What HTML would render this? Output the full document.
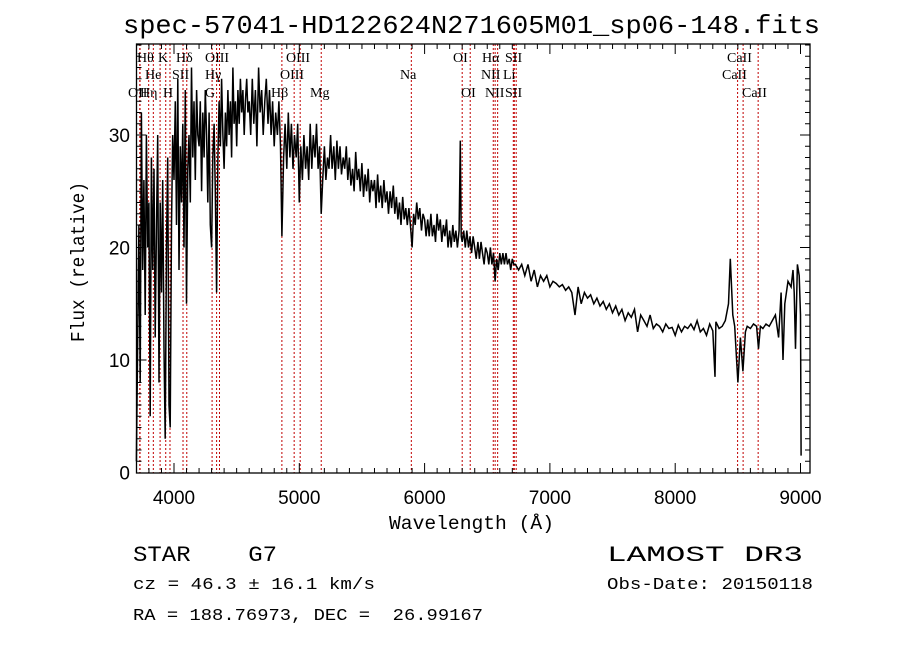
<!DOCTYPE html>
<html><head><meta charset="utf-8"><style>
html,body{margin:0;padding:0;background:#fff;}
svg{display:block;}
text{white-space:pre;}
</style></head><body>
<svg id="chart" width="900" height="649" viewBox="0 0 900 649" xmlns="http://www.w3.org/2000/svg" xml:space="preserve">
<rect x="0" y="0" width="900" height="649" fill="#fff"/>
<text x="123" y="33" textLength="697" lengthAdjust="spacingAndGlyphs" font-family="Liberation Mono, monospace" font-size="26">spec-57041-HD122624N271605M01_sp06-148.fits</text>
<g id="lines-layer"></g>
<g id="spec-layer"></g>
<g id="axes-layer"></g>
<text x="389" y="529" textLength="165" lengthAdjust="spacingAndGlyphs" font-family="Liberation Mono, monospace" font-size="19">Wavelength (Å)</text>
<text transform="translate(84,342) rotate(-90)" textLength="160" lengthAdjust="spacingAndGlyphs" font-family="Liberation Mono, monospace" font-size="19">Flux (relative)</text>
<text x="133" y="561" textLength="144" lengthAdjust="spacingAndGlyphs" font-family="Liberation Mono, monospace" font-size="22">STAR    G7</text>
<text x="607" y="561" textLength="196" lengthAdjust="spacingAndGlyphs" font-family="Liberation Mono, monospace" font-size="22">LAMOST DR3</text>
<text x="133" y="589" textLength="242" lengthAdjust="spacingAndGlyphs" font-family="Liberation Mono, monospace" font-size="17">cz = 46.3 ± 16.1 km/s</text>
<text x="607" y="589" textLength="206" lengthAdjust="spacingAndGlyphs" font-family="Liberation Mono, monospace" font-size="17">Obs-Date: 20150118</text>
<text x="133" y="620" textLength="350" lengthAdjust="spacingAndGlyphs" font-family="Liberation Mono, monospace" font-size="17">RA = 188.76973, DEC =  26.99167</text>
</svg>
<script>
const wavelengths=[3700,3710,3720,3730,3740,3750,3760,3770,3780,3790,3800,3810,3820,3830,3840,3850,3860,3870,3880,3890,3900,3910,3920,3930,3940,3950,3960,3970,3980,3990,4000,4010,4020,4030,4040,4050,4060,4070,4080,4090,4100,4110,4120,4130,4140,4150,4160,4170,4180,4190,4200,4210,4220,4230,4240,4250,4260,4270,4280,4290,4300,4310,4320,4330,4340,4350,4360,4370,4380,4390,4400,4410,4420,4430,4440,4450,4460,4470,4480,4490,4500,4510,4520,4530,4540,4550,4560,4570,4580,4590,
4600,4612,4625,4637,4650,4662,4675,4687,4700,4712,4725,4737,4750,4762,4775,4787,4800,4812,4825,4837,4850,4861,4875,4887,4900,4912,4925,4937,4950,4962,4975,4987,5000,5012,5025,5037,5050,5062,5075,5087,5100,5112,5125,5137,5150,5162,5175,5187,5200,5212,5225,5237,5250,5262,5275,5287,5300,5312,5325,5337,5350,5362,5375,5387,5400,5412,5425,5437,5450,5462,5475,5487,5500,5512,5525,5537,5550,5562,5575,5587,5600,5612,5625,5637,5650,5662,5675,5687,5700,5712,5725,5737,5750,5762,5775,5787,5800,5812,5825,5837,5850,5862,5875,5887,5900,5912,5925,5937,5950,5962,5975,5987,6000,
6012,6025,6037,6050,6062,6075,6087,6100,6112,6125,6137,6150,6162,6175,6187,6200,6212,6225,6237,6250,6262,6275,6285,6292,6300,6312,6325,6337,6350,6362,6375,6387,6400,6412,6425,6437,6450,6462,6475,6487,6500,6512,6525,6537,6550,6563,6575,6587,6600,6612,6625,6637,6650,6662,6675,6687,6700,6712,6725,
6750,6775,6800,6825,6850,6875,6900,6925,6950,6975,7000,7025,7050,7075,7100,7125,7150,7175,7200,7225,7250,7275,7300,7325,7350,7375,7400,7425,7450,7475,7500,7525,7550,7575,7600,7625,7650,7675,7700,7725,7750,7775,7800,7825,7850,7875,7900,7925,7950,7975,8000,8025,8050,8075,8100,8125,8150,8175,8200,8225,8250,8275,8300,8318,8325,8350,8375,8400,8425,8440,8460,8475,8490,8500,8520,8540,8560,8575,8600,8625,8650,8665,8680,8700,8725,8750,8775,8800,8825,8845,8860,8875,8900,8925,8940,8950,8960,8975,8990,9000,9005];
const flux=[1,12,22,8,32,18,26,14,30,20,24,5,28,18,27,12,22,30,8,24,16,26,11,3,20,28,6,4,22,30,26,33,22,35,18,29,24,31,20,34,15,27,30,24,36,28,33,26,34,30,29,33,25,32,28,34,30,24,32,22,20,28,31,25,16,28,33,29,35,30,27,32,29,34,30,33,28,36,31,33,29,34,31,35,32,34,30,33,35,32,
33,30,35,31,34,29,36,32,34,30,33,35,31,34,30,33,29,32,30,33,29,21,28,31,27,32,28,31,27,30,28,31,24,29,26,30,27,29,26,31,27,30,28,31,27,29,23,26,29,26,28,27,30,27,29,26,29.5,27,29,26.5,28,27,29,26,28,25.5,27,25,28.5,26,27,25,27.5,24.5,26.5,25,27,24,26,25,26,23.5,26.5,24,25.5,23.5,26,24,25,23,25,23.5,25.5,23,24.5,22.5,24,22,24.5,22.5,23.5,22,23.5,22,20,23,22,24,22.5,23.5,21.5,23,22.5,
21,22.5,21,23,21,22,20.5,23,21.5,22.5,20.5,22,21,22.5,20,21.5,20,22,20.5,21.5,20,21.5,29.5,21,20.5,21.5,20,21.5,20,21,19.5,21,20,19,20.5,19,20.5,19.5,18.5,20,19.5,18.5,20,18.5,19.5,17,19,18,19.5,18.5,19.5,18.5,19.5,18.5,19,18,19,18.5,18.5,
18,18.5,17.5,18.5,17,18,16.5,17.5,17,17.5,16.5,17,16.8,16.5,16.7,16.2,16.5,16,14,16.5,15,16,15.5,15.8,15,15.5,14.8,15.2,14.5,15,14.2,14.8,14,14.5,13.5,14.2,13.8,14.5,12.5,14,13.5,13,14,12.8,13.2,13,12.5,13.2,12.8,12.9,12.2,13.1,12.5,13,12.8,13.2,12.7,13.5,12.5,12.8,12.2,13.2,12.6,8.5,13.4,12.8,13,13.5,15,19,14,13,10,8,12,9,12.5,13,12.8,13.2,13,11,13,12.8,13.2,13,13.5,14,12,16,10,15,17,16.5,18,16,11,18.5,17.5,14,1.5];
const lineWaves=[3727,3729,3798,3835,3889,3934,3968,4072,4102,4304,4340,4363,4861,4959,5007,5175,5894,6300,6364,6548,6563,6583,6708,6716,6731,8498,8542,8662];
const lineLabels=["OII","Hθ","He","Hη","K","H","SII","Hδ","G","Hγ","OIII","Hβ","OIII","OIII","Mg","Na","OI","OI","NII","Hα","NII","Li","SII","SII","CaII","CaII","CaII"];
const labelX=[128,137,145,140,158,163,172,176,205,205,205,271,280,286,310,400,453,461,481,482,485,503,505,505,727,722,742];
const labelRow=[2,0,1,2,0,2,1,0,2,1,0,2,1,0,2,1,0,2,1,0,2,1,0,2,0,1,2];
const xTicks=[4000,5000,6000,7000,8000,9000];
const yTicks=[0,10,20,30];

const L=136.5,R=810,T=44,B=473;
const xs=w=>174+(w-4000)*0.1253;
const ys=f=>472.5-f*11.25;
const NS='http://www.w3.org/2000/svg';
function mk(tag,attrs,parent){const e=document.createElementNS(NS,tag);for(const k in attrs)e.setAttribute(k,attrs[k]);parent.appendChild(e);return e;}
const linesG=document.getElementById('lines-layer');
lineWaves.forEach((w,i)=>{
  const ln=mk('line',{x1:xs(w),x2:xs(w),y1:T,y2:B,stroke:'#c00000','stroke-width':1,'stroke-dasharray':'2,2'},linesG);
  
  
});
const rowY=[62,79,97];
lineLabels.forEach((t,i)=>{
  const tx=mk('text',{x:labelX[i],y:rowY[labelRow[i]],'font-family':'Liberation Serif, serif','font-size':14,fill:'#000'},linesG);
  tx.textContent=t;
  
  
});
const specG=document.getElementById('spec-layer');
const pts=wavelengths.map((w,i)=>xs(w).toFixed(1)+','+ys(flux[i]).toFixed(1)).join(' ');
const pl=mk('polyline',{points:pts,fill:'none',stroke:'#000','stroke-width':1.5},specG);


const ax=document.getElementById('axes-layer');
const fr=mk('rect',{x:L,y:T,width:R-L,height:B-T,fill:'none',stroke:'#000','stroke-width':1.3},ax);


let d='';
for(let w=3800;w<=9100;w+=100){const x=xs(w);if(x>R)break;const len=(w%1000===0)?10:5;d+=`M${x},${B}v${-len}M${x},${T}v${len}`;}
for(let f=1;f<=38;f++){const y=ys(f);if(y<T)break;const len=(f%10===0)?10:5;d+=`M${L},${y}h${len}M${R},${y}h${-len}`;}
const tk=mk('path',{d:d,stroke:'#000','stroke-width':1,fill:'none'},ax);


xTicks.forEach(w=>{
  const t=mk('text',{x:xs(w),y:504,'text-anchor':'middle','font-family':'Liberation Sans, sans-serif','font-size':19},ax);
  t.textContent=String(w);
  
  
});
yTicks.forEach(f=>{
  const t=mk('text',{x:130,y:ys(f)+7,'text-anchor':'end','font-family':'Liberation Sans, sans-serif','font-size':19},ax);
  t.textContent=String(f);
  
  
});
</script>
</body></html>
